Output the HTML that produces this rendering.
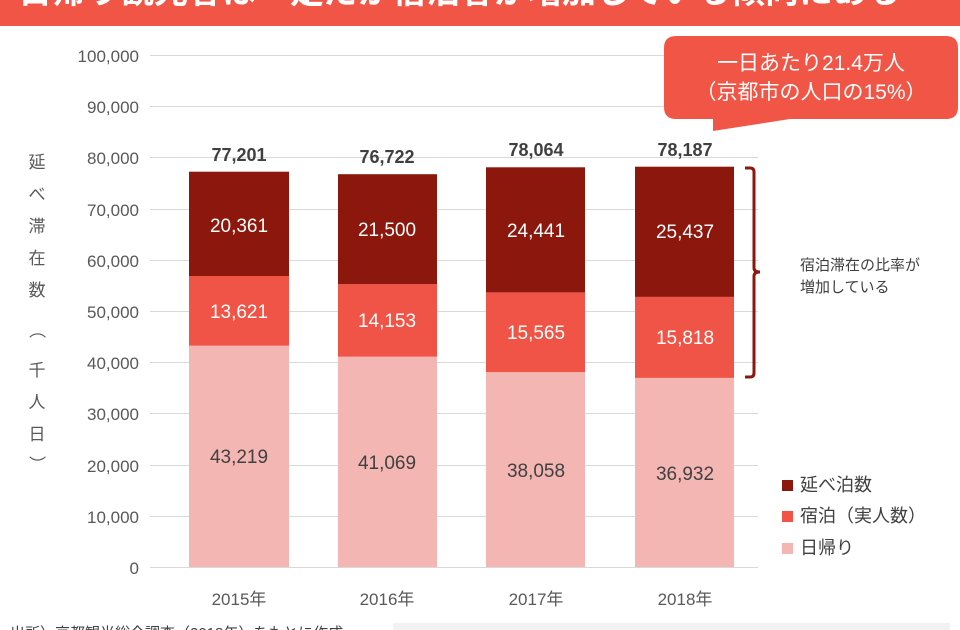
<!DOCTYPE html>
<html><head><meta charset="utf-8"><style>
html,body{margin:0;padding:0;width:960px;height:630px;overflow:hidden;background:#fff}
svg{display:block}
text{font-family:"Liberation Sans","Noto Sans CJK JP",sans-serif}
</style></head><body>
<svg width="960" height="630" viewBox="0 0 960 630" xmlns="http://www.w3.org/2000/svg">
<rect x="0" y="0" width="960" height="26" fill="#F05546"/>
<text x="18" y="3" font-size="34" font-weight="bold" fill="#fff">日帰り観光客は一定だが宿泊客が増加している傾向にある</text>
<g stroke="#d9d9d9" stroke-width="1">
<line x1="150" y1="55.5" x2="758" y2="55.5"/><line x1="150" y1="106.5" x2="758" y2="106.5"/>
<line x1="150" y1="157.5" x2="758" y2="157.5"/><line x1="150" y1="209.5" x2="758" y2="209.5"/>
<line x1="150" y1="260.5" x2="758" y2="260.5"/><line x1="150" y1="311.5" x2="758" y2="311.5"/>
<line x1="150" y1="362.5" x2="758" y2="362.5"/><line x1="150" y1="413.5" x2="758" y2="413.5"/>
<line x1="150" y1="465.5" x2="758" y2="465.5"/><line x1="150" y1="516.5" x2="758" y2="516.5"/>
<line x1="150" y1="567.5" x2="758" y2="567.5"/>
</g>
<g font-size="17" fill="#595959" text-anchor="end">
<text x="139" y="62">100,000</text><text x="139" y="113">90,000</text><text x="139" y="164">80,000</text>
<text x="139" y="216">70,000</text><text x="139" y="267">60,000</text><text x="139" y="318">50,000</text>
<text x="139" y="369">40,000</text><text x="139" y="420">30,000</text><text x="139" y="472">20,000</text>
<text x="139" y="523">10,000</text><text x="139" y="574">0</text>
</g>
<g font-size="17" fill="#595959" text-anchor="middle">
<text x="37" y="168">延</text><text x="37" y="200">べ</text><text x="37" y="232">滞</text><text x="37" y="264">在</text>
<text x="37" y="296">数</text><text x="37" y="336" transform="rotate(90 37 330)">（</text><text x="37" y="376">千</text>
<text x="37" y="408">人</text><text x="37" y="440">日</text><text x="37" y="470" transform="rotate(90 37 464)">）</text>
</g>
<g>
<rect x="189" y="345.7" width="100" height="221.3" fill="#F4B6B3"/>
<rect x="189" y="276" width="100" height="69.7" fill="#F05446"/>
<rect x="189" y="171.7" width="100" height="104.3" fill="#8B170D"/>
<rect x="338" y="356.7" width="99" height="210.3" fill="#F4B6B3"/>
<rect x="338" y="284.2" width="99" height="72.5" fill="#F05446"/>
<rect x="338" y="174.2" width="99" height="110" fill="#8B170D"/>
<rect x="486" y="372.1" width="99" height="194.9" fill="#F4B6B3"/>
<rect x="486" y="292.4" width="99" height="79.7" fill="#F05446"/>
<rect x="486" y="167.3" width="99" height="125.1" fill="#8B170D"/>
<rect x="635" y="377.9" width="99" height="189.1" fill="#F4B6B3"/>
<rect x="635" y="296.9" width="99" height="81" fill="#F05446"/>
<rect x="635" y="166.7" width="99" height="130.2" fill="#8B170D"/>
</g>
<g font-size="19" text-anchor="middle" fill="#fff">
<text x="239" y="232">20,361</text><text x="239" y="318">13,621</text>
<text x="387" y="236">21,500</text><text x="387" y="327">14,153</text>
<text x="536" y="237">24,441</text><text x="536" y="339">15,565</text>
<text x="685" y="238">25,437</text><text x="685" y="344">15,818</text>
</g>
<g font-size="19" text-anchor="middle" fill="#404040">
<text x="239" y="463">43,219</text><text x="387" y="469">41,069</text>
<text x="536" y="477">38,058</text><text x="685" y="480">36,932</text>
</g>
<g font-size="18" font-weight="bold" text-anchor="middle" fill="#404040">
<text x="239" y="161">77,201</text><text x="387" y="163">76,722</text>
<text x="536" y="156">78,064</text><text x="685" y="156">78,187</text>
</g>
<g font-size="17" text-anchor="middle" fill="#595959">
<text x="239" y="605">2015年</text><text x="387" y="605">2016年</text>
<text x="536" y="605">2017年</text><text x="685" y="605">2018年</text>
</g>
<path d="M676,36 H946 Q958,36 958,48 V107 Q958,119 946,119 H790 L713,131 V119 H676 Q664,119 664,107 V48 Q664,36 676,36 Z" fill="#F05546"/>
<text x="811" y="70" font-size="21" fill="#fff" text-anchor="middle">一日あたり21.4万人</text>
<text x="811" y="99" font-size="21" fill="#fff" text-anchor="middle">（京都市の人口の15%）</text>
<path d="M745,168 H750 Q754,168 754,172 V268 Q754,272 760,272 Q754,272 754,276 V373 Q754,377 750,377 H745" fill="none" stroke="#8B170D" stroke-width="3"/>
<text x="800" y="270" font-size="15" fill="#404040">宿泊滞在の比率が</text>
<text x="800" y="292" font-size="15" fill="#404040">増加している</text>
<rect x="782" y="480" width="11" height="11" fill="#8B170D"/>
<text x="800" y="491" font-size="18" fill="#404040">延べ泊数</text>
<rect x="782" y="511" width="11" height="11" fill="#F05446"/>
<text x="800" y="522" font-size="18" fill="#404040">宿泊（実人数）</text>
<rect x="782" y="543" width="11" height="11" fill="#F4B6B3"/>
<text x="800" y="554" font-size="18" fill="#404040">日帰り</text>
<text x="10" y="638" font-size="15" fill="#404040">出所）京都観光総合調査（2018年）をもとに作成</text>
<rect x="393" y="623" width="557" height="10" fill="#f2f2f2"/>
</svg>
</body></html>
